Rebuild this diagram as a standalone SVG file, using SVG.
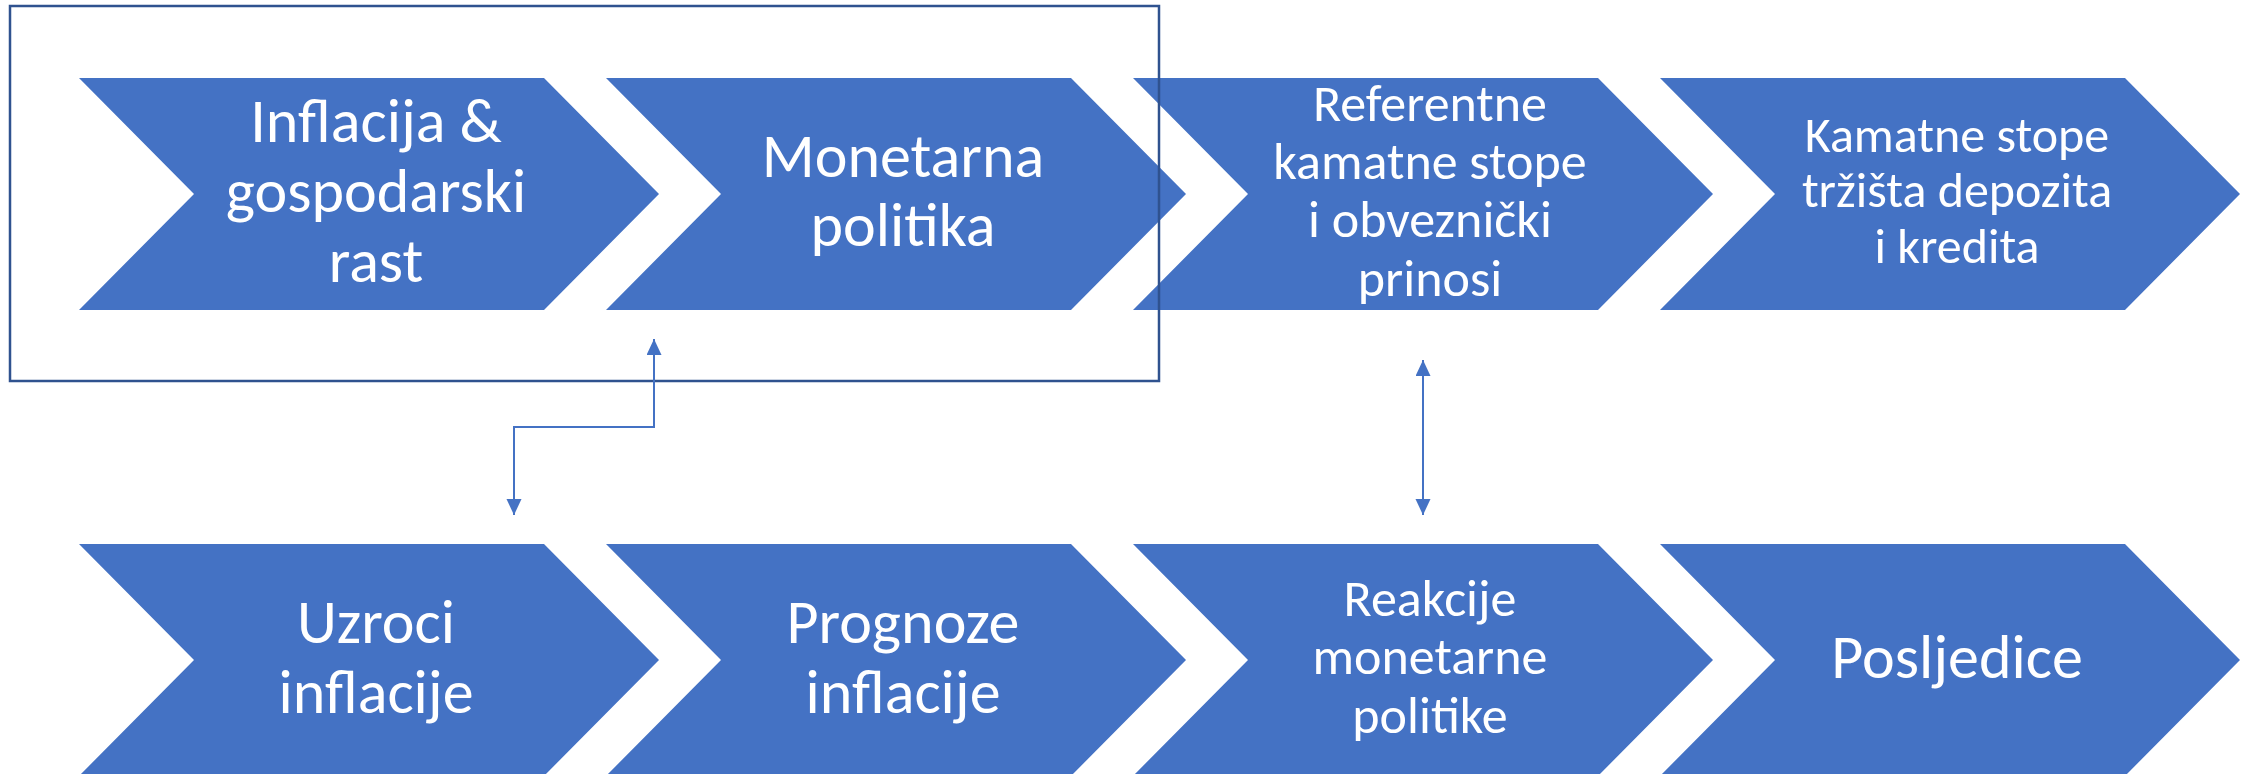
<svg xmlns="http://www.w3.org/2000/svg" width="2246" height="774" viewBox="0 0 2246 774">
<style>
.chev{fill:#4472C4;}
.t{fill:#FFFFFF;font-family:Carlito,Lato,"Open Sans",sans-serif;text-anchor:middle;}
.big{font-size:62px;}
.mid{font-size:52px;}
.sm{font-size:50px;}
.conn{fill:none;stroke:#4472C4;stroke-width:2;}
</style>
<defs>
<marker id="ah" markerUnits="userSpaceOnUse" markerWidth="17" markerHeight="16" refX="16" refY="7.5" orient="auto-start-reverse" viewBox="0 0 17 16">
<path d="M0,0 L16,7.5 L0,15 z" fill="#4472C4"/>
</marker>
</defs>
<g id="n1"><polygon class="chev" points="79,78 544,78 659,194 544,310 79,310 194,194"/>
<text class="t big" x="376" y="142">Inflacija &amp;</text><text class="t big" x="376" y="212">gospodarski</text><text class="t big" x="376" y="282">rast</text></g>
<g id="n2"><polygon class="chev" points="606,78 1071,78 1186,194 1071,310 606,310 721,194"/>
<text class="t big" x="903" y="177">Monetarna</text><text class="t big" x="903" y="246">politika</text></g>
<g id="n3"><polygon class="chev" points="1133,78 1598,78 1713,194 1598,310 1133,310 1248,194"/>
<text class="t mid" x="1430" y="121">Referentne</text><text class="t mid" x="1430" y="179">kamatne stope</text><text class="t mid" x="1430" y="237">i obveznički</text><text class="t mid" x="1430" y="296">prinosi</text></g>
<g id="n4"><polygon class="chev" points="1660,78 2125,78 2240,194 2125,310 1660,310 1775,194"/>
<text class="t sm" x="1957" y="152">Kamatne stope</text><text class="t sm" x="1957" y="207">tržišta depozita</text><text class="t sm" x="1957" y="263">i kredita</text></g>
<g id="n5"><polygon class="chev" points="79,544 544,544 659,660 544,776 79,776 194,660"/>
<text class="t big" x="376" y="643">Uzroci</text><text class="t big" x="376" y="713">inflacije</text></g>
<g id="n6"><polygon class="chev" points="606,544 1071,544 1186,660 1071,776 606,776 721,660"/>
<text class="t big" x="903" y="643">Prognoze</text><text class="t big" x="903" y="713">inflacije</text></g>
<g id="n7"><polygon class="chev" points="1133,544 1598,544 1713,660 1598,776 1133,776 1248,660"/>
<text class="t mid" x="1430" y="616">Reakcije</text><text class="t mid" x="1430" y="674">monetarne</text><text class="t mid" x="1430" y="733">politike</text></g>
<g id="n8"><polygon class="chev" points="1660,544 2125,544 2240,660 2125,776 1660,776 1775,660"/>
<text class="t big" x="1957" y="678">Posljedice</text></g>
<g id="frame"><rect x="10" y="6" width="1149" height="375" fill="none" stroke="#2F528F" stroke-width="2.5"/></g>
<g id="connectors">
<path class="conn" d="M654,339 V427 H514 V515" marker-start="url(#ah)" marker-end="url(#ah)"/>
<path class="conn" d="M1423,360 V515" marker-start="url(#ah)" marker-end="url(#ah)"/>
</g>
</svg>
